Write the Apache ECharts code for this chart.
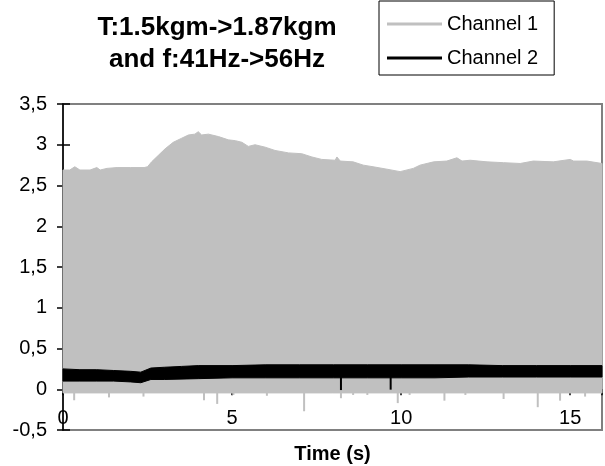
<!DOCTYPE html>
<html><head><meta charset="utf-8">
<script src="https://cdn.jsdelivr.net/npm/echarts@6.0.0/dist/echarts.min.js"></script>
<style>html,body{margin:0;padding:0;background:#fff}#c{width:605px;height:466px}</style>
</head><body><div id="c"></div>
<script>
// Channel 1: envelope of the dense signal (time s, value)
const ch1Upper = [[0,2.69],[0.2,2.69],[0.35,2.73],[0.5,2.69],[0.8,2.69],[1.0,2.72],[1.1,2.69],[1.3,2.71],[1.6,2.72],[2.0,2.72],[2.4,2.72],[2.5,2.73],[2.62,2.79],[2.82,2.87],[3.02,2.95],[3.26,3.03],[3.51,3.08],[3.71,3.12],[3.9,3.13],[4.0,3.16],[4.1,3.12],[4.3,3.13],[4.6,3.10],[4.89,3.06],[5.1,3.05],[5.29,3.03],[5.48,2.98],[5.68,3.00],[5.98,2.97],[6.27,2.93],[6.67,2.90],[7.06,2.89],[7.36,2.85],[7.65,2.82],[8.05,2.81],[8.1,2.85],[8.2,2.80],[8.58,2.79],[8.88,2.75],[9.17,2.73],[9.58,2.70],[9.97,2.67],[10.36,2.71],[10.56,2.75],[10.96,2.79],[11.35,2.80],[11.65,2.84],[11.8,2.80],[12.04,2.81],[12.54,2.79],[13.03,2.78],[13.52,2.77],[13.91,2.80],[14.5,2.79],[15.0,2.82],[15.1,2.80],[15.49,2.80],[15.94,2.77]];
const ch1Lower = [[0,-0.045],[15.94,-0.045]];
const ch1Spikes = [[0.33,-0.135],[1.36,-0.10],[2.38,-0.09],[4.17,-0.135],[4.56,-0.18],[5.04,-0.07],[6.03,-0.08],[7.13,-0.27],[8.22,-0.11],[8.58,-0.07],[9.0,-0.07],[9.9,-0.17],[10.25,-0.07],[11.28,-0.14],[11.9,-0.07],[13.03,-0.12],[14.04,-0.22],[14.7,-0.14],[15.44,-0.09]];
// Channel 2
const ch2Upper = [[0,0.25],[0.5,0.24],[1.0,0.24],[1.5,0.23],[2.0,0.22],[2.3,0.21],[2.6,0.26],[3.0,0.27],[3.5,0.28],[4.0,0.29],[5,0.29],[6,0.30],[7,0.30],[8,0.30],[9,0.30],[10,0.30],[11,0.30],[12,0.30],[13,0.29],[14,0.29],[15,0.29],[15.94,0.29]];
const ch2Lower = [[0,0.10],[0.5,0.10],[1.0,0.10],[1.5,0.10],[2.0,0.09],[2.3,0.08],[2.6,0.12],[3.0,0.12],[4.0,0.13],[5,0.14],[6,0.14],[7,0.14],[8,0.14],[9,0.14],[10,0.14],[11,0.14],[12,0.15],[13,0.15],[14,0.15],[15,0.15],[15.94,0.15]];
const ch2Spikes = [[8.22,-0.01],[9.69,-0.005]];
const seriesNames = ['Channel 1','Channel 2'];
const xRange = [0, 15.94];
const yRange = [-0.5, 3.5];

const FONT = 'Liberation Sans, Arial, sans-serif';
const GREY = '#c0c0c0', BLACK = '#000000';

function bandRenderer(upper, lower, color){
  return function(params, api){
    const pts = upper.map(p => api.coord(p)).concat(lower.slice().reverse().map(p => api.coord(p)));
    return {type:'polygon', shape:{points:pts}, style:{fill:color, stroke:color, lineWidth:1}};
  };
}
function spikeRenderer(base, color, width){
  return function(params, api){
    const a = api.coord([api.value(0), base]);
    const b = api.coord([api.value(0), api.value(1)]);
    return {type:'line', shape:{x1:a[0],y1:a[1],x2:b[0],y2:b[1]}, style:{stroke:color, lineWidth:width}};
  };
}
const fmtY = v => String(v).replace('.', ',');
const fmtX = v => (Math.abs(v % 5) < 1e-9 ? String(v) : '');

const chart = echarts.init(document.getElementById('c'), null, {renderer:'canvas'});
chart.setOption({
  animation:false,
  backgroundColor:'#ffffff',
  textStyle:{fontFamily:FONT},
  title:{
    text:'T:1.5kgm->1.87kgm\nand f:41Hz->56Hz',
    left:212, top:7, textAlign:'center',
    textStyle:{fontSize:26, fontWeight:'bold', color:'#000', lineHeight:32, fontFamily:FONT}
  },
  legend:{
    orient:'vertical', left:379, top:1,
    padding:[12,16,6,8], itemGap:12,
    itemWidth:55, itemHeight:3, icon:'rect',
    borderColor:'#000', borderWidth:1,
    textStyle:{fontSize:20, color:'#000', lineHeight:22, fontFamily:FONT},
    data:[{name:seriesNames[0], itemStyle:{color:GREY}},{name:seriesNames[1], itemStyle:{color:BLACK}}]
  },
  grid:{left:63, right:3, top:104, bottom:36, show:true, borderColor:'#808080', borderWidth:2, outerBoundsMode:'none', containLabel:false},
  xAxis:[{
    // axis line + ticks crossing at y = 0
    type:'value', min:xRange[0], max:xRange[1], interval:5,
    axisLine:{show:true, onZero:true, onZeroAxisIndex:0, lineStyle:{color:'#000', width:1}},
    axisTick:{show:true, inside:false, length:6, lineStyle:{color:'#000', width:1.5}},
    axisLabel:{show:false}, splitLine:{show:false}
  },{
    // labels at the low side of the plot area
    type:'value', min:xRange[0], max:xRange[1], interval:5, position:'bottom',
    axisLine:{show:false, onZero:false}, axisTick:{show:false}, splitLine:{show:false},
    axisLabel:{inside:true, margin:2, fontSize:20, lineHeight:20, color:'#000', fontFamily:FONT, formatter:fmtX, showMaxLabel:false},
    name:'Time (s)', nameLocation:'middle', nameGap:14, nameMoveOverlap:false,
    nameTextStyle:{fontWeight:'bold', fontSize:20, color:'#000', fontFamily:FONT}
  }],
  yAxis:[{
    type:'value', min:yRange[0], max:yRange[1], interval:0.5,
    axisLine:{show:true, onZero:false, lineStyle:{color:'#000', width:1.5}},
    axisTick:{show:true, length:6, lineStyle:{color:'#000', width:1.5}},
    axisLabel:{margin:16, fontSize:20, color:'#000', fontFamily:FONT, formatter:fmtY},
    splitLine:{show:false}
  },{
    type:'value', min:yRange[0], max:yRange[1], interval:0.5, position:'left',
    axisLine:{show:false, onZero:false}, axisLabel:{show:false}, splitLine:{show:false},
    axisTick:{show:true, inside:true, length:7, lineStyle:{color:'#000', width:1.5}}
  }],
  series:[
    {name:seriesNames[0], type:'custom', data:[[0,0]], encode:{x:0,y:1}, renderItem:bandRenderer(ch1Upper, ch1Lower, GREY), itemStyle:{color:GREY}, z:2},
    {name:seriesNames[0], type:'custom', data:ch1Spikes, encode:{x:0,y:1}, renderItem:spikeRenderer(0, GREY, 2), itemStyle:{color:GREY}, z:2},
    {name:seriesNames[1], type:'custom', data:[[0,0]], encode:{x:0,y:1}, renderItem:bandRenderer(ch2Upper, ch2Lower, BLACK), itemStyle:{color:BLACK}, z:3},
    {name:seriesNames[1], type:'custom', data:ch2Spikes, encode:{x:0,y:1}, renderItem:spikeRenderer(0.15, BLACK, 2), itemStyle:{color:BLACK}, z:3}
  ]
});
</script></body></html>
